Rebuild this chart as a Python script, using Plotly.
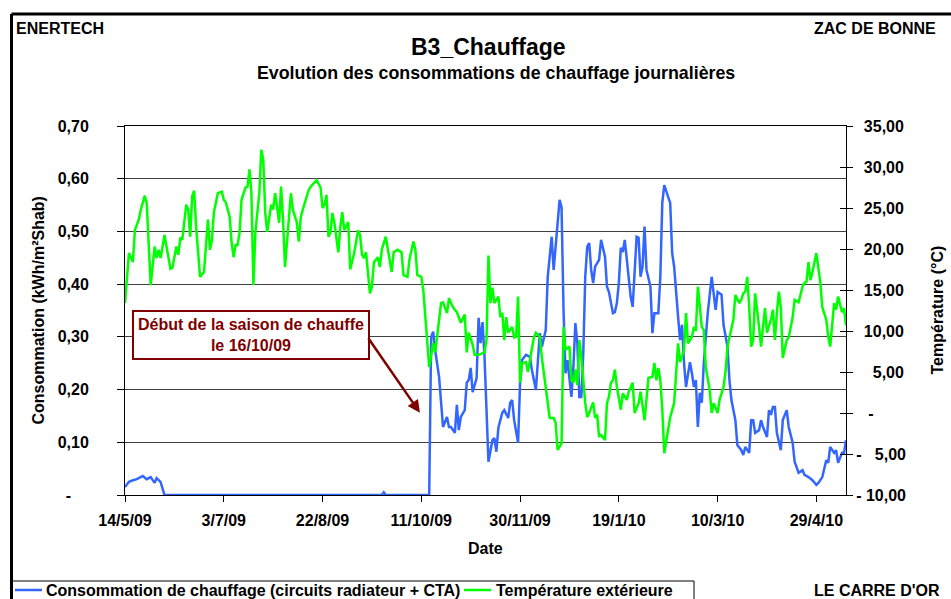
import pandas as pd
import plotly.graph_objects as go

# ---------------- data ----------------
start_date = "2009-05-14"

# outside temperature (°C), day offsets from start_date
temp_day = [0, 2, 4, 5, 7, 8, 10, 11, 13, 15, 16, 17, 18, 20, 21, 23, 24, 26, 27, 28, 29,
            31, 32, 33, 34, 35, 36, 38, 40, 41, 42, 43, 44, 45, 47, 49, 50, 51, 53, 54, 55,
            56, 57, 58, 59, 61, 62, 63, 64, 65, 66, 68, 69, 70, 71, 72, 73, 74, 75, 76, 77,
            78, 79, 80, 81, 82, 84, 85, 87, 88, 89, 90, 91, 93, 94, 96, 97, 99, 100, 101,
            102, 103, 104, 105, 106, 108, 109, 110, 111, 113, 114, 116, 118, 119, 120, 121,
            122, 124, 125, 126, 128, 129, 130, 132, 133, 135, 136, 138, 140, 141, 143, 144,
            146, 147, 148, 150, 151, 152, 154, 156, 157, 158, 160, 161, 163, 164, 166, 168,
            170, 172, 173, 174, 176, 177, 179, 182, 183, 184, 185, 186, 187, 189, 190, 191,
            192, 193, 194, 196, 197, 198, 199, 200, 201, 203, 204, 205, 207, 208, 210, 211,
            213, 215, 217, 218, 219, 221, 222, 223, 225, 226, 227, 228, 229, 230, 231, 233,
            234, 235, 237, 238, 239, 240, 241, 243, 244, 245, 246, 247, 248, 249, 251, 252,
            254, 255, 257, 258, 260, 261, 263, 264, 265, 267, 268, 269, 270, 271, 272, 273,
            275, 276, 278, 279, 280, 281, 283, 284, 285, 287, 288, 289, 290, 292, 293, 294,
            296, 297, 298, 300, 301, 303, 304, 305, 307, 308, 309, 311, 312, 313, 314, 315,
            316, 317, 318, 319, 321, 322, 323, 324, 325, 327, 328, 329, 330, 331, 332, 333,
            335, 336, 338, 339, 341, 343, 344, 345, 346, 347, 348, 350, 352, 353, 355, 356,
            357, 358, 359, 360, 361, 363, 364, 365]
temp_val = [13.4, 19.5, 18.4, 22.3, 23.6, 24.8, 26.5, 25.6, 15.6, 20.3, 18.9, 19.9, 18.9, 21.7,
            20.3, 17.6, 17.7, 20.3, 19.3, 21.4, 21.1, 25.4, 24.8, 21.5, 26.4, 27.1, 22.7, 16.6,
            17.2, 19.9, 23.6, 19.9, 21.1, 24.5, 26.8, 27.0, 26.0, 25.7, 23.9, 20.7, 19.0, 20.5,
            20.5, 22.0, 26.0, 27.5, 27.6, 29.7, 26.8, 15.6, 22.0, 26.8, 32.1, 30.9, 24.4, 22.1,
            23.9, 25.4, 24.8, 26.8, 25.1, 23.2, 27.6, 23.6, 17.8, 21.1, 26.8, 24.8, 23.2, 20.9,
            23.9, 24.8, 25.7, 27.2, 27.6, 28.2, 28.4, 27.5, 25.0, 25.4, 26.6, 21.5, 22.0, 24.4,
            23.2, 19.6, 22.7, 24.5, 22.3, 23.3, 17.5, 19.5, 22.3, 21.7, 19.3, 18.9, 19.6, 14.6,
            15.4, 18.4, 19.0, 17.8, 19.9, 21.5, 19.9, 17.2, 19.6, 19.9, 19.6, 16.8, 16.6, 18.7,
            20.9, 19.9, 16.8, 16.6, 15.0, 12.0, 5.6, 8.5, 7.4, 9.3, 13.4, 13.5, 12.2, 14.0,
            12.9, 12.3, 11.0, 12.0, 7.4, 9.8, 8.3, 7.1, 7.1, 7.4, 8.9, 19.2, 13.4, 15.3, 13.4,
            14.2, 11.7, 12.2, 8.9, 11.7, 9.8, 10.5, 9.2, 9.3, 14.2, 3.7, 6.1, 6.2, 5.0, 6.5,
            9.2, 9.8, 9.3, 6.8, 3.1, -0.6, -0.6, -1.2, -4.5, -3.7, 10.5, 7.7, 8.1, 4.0, 3.7,
            5.3, 3.4, 8.9, 6.8, 1.2, -0.5, 0.0, 1.3, -0.6, -0.2, -2.9, -2.7, -3.3, 1.2, 2.0,
            3.7, 4.0, 5.3, 3.2, 0.4, 2.4, 1.6, 2.6, 3.7, 0.0, 1.2, 2.6, -0.9, 1.6, 4.3, 4.4,
            6.1, 4.0, 5.5, 4.0, 0.4, -4.9, -1.7, -0.5, 1.2, 5.3, 8.5, 6.2, 7.7, 12.2, 8.5, 9.3,
            10.5, 10.0, 15.4, 10.5, 10.1, 5.6, 2.8, 0.0, 1.2, 0.0, 1.6, 3.2, 5.0, 8.1, 10.5,
            11.4, 14.4, 13.4, 13.8, 14.6, 14.8, 16.6, 12.9, 8.1, 8.9, 14.6, 10.5, 8.1, 10.5,
            12.8, 9.8, 11.4, 12.6, 8.9, 12.2, 14.8, 12.9, 6.7, 8.9, 9.2, 11.7, 13.8, 13.5, 15.4,
            15.9, 16.0, 18.4, 16.2, 17.2, 19.5, 15.9, 12.9, 11.4, 9.3, 8.1, 11.0, 13.4, 12.6,
            14.2, 12.3, 12.8, 10.7]

# heating consumption (kWh/m²Shab), day offsets from start_date
conso_day = [0, 2, 4, 6, 9, 10, 11, 13, 15, 16, 18, 20, 130, 131, 132, 154, 155, 156, 157, 159,
             160, 161, 163, 164, 165, 167, 168, 169, 170, 172, 173, 174, 175, 176, 178, 179, 180,
             181, 182, 183, 184, 186, 187, 188, 189, 191, 192, 194, 195, 196, 197, 199, 200, 201,
             203, 205, 206, 208, 209, 210, 211, 213, 214, 216, 217, 218, 220, 221, 222, 223, 224,
             226, 227, 228, 229, 230, 231, 232, 233, 234, 235, 236, 237, 238, 240, 241, 243, 244,
             245, 247, 248, 249, 250, 251, 252, 253, 254, 256, 257, 258, 259, 260, 261, 262, 263,
             264, 266, 267, 268, 270, 271, 272, 273, 275, 276, 277, 278, 280, 281, 282, 283, 284,
             286, 287, 288, 289, 290, 291, 292, 293, 295, 297, 298, 299, 300, 302, 303, 305, 306,
             307, 309, 310, 312, 313, 314, 316, 317, 318, 319, 321, 322, 323, 325, 326, 327, 328,
             329, 330, 332, 333, 335, 336, 338, 339, 341, 343, 344, 346, 348, 350, 351, 353, 355,
             356, 357, 359, 360, 361, 363, 364, 365]
conso_val = [0.015, 0.025, 0.028, 0.030, 0.036, 0.032, 0.030, 0.034, 0.023, 0.032, 0.025, 0.0,
             0.0, 0.005, 0.0, 0.0, 0.300, 0.310, 0.275, 0.224, 0.175, 0.129, 0.148, 0.129, 0.129,
             0.118, 0.171, 0.123, 0.148, 0.161, 0.213, 0.218, 0.241, 0.195, 0.222, 0.336, 0.288,
             0.328, 0.262, 0.148, 0.063, 0.104, 0.108, 0.082, 0.127, 0.156, 0.161, 0.146, 0.175,
             0.180, 0.142, 0.099, 0.213, 0.256, 0.266, 0.262, 0.237, 0.199, 0.262, 0.307, 0.281,
             0.313, 0.414, 0.490, 0.427, 0.471, 0.560, 0.546, 0.351, 0.231, 0.256, 0.186, 0.243,
             0.326, 0.288, 0.186, 0.186, 0.269, 0.414, 0.471, 0.478, 0.427, 0.402, 0.433, 0.446,
             0.484, 0.452, 0.395, 0.385, 0.345, 0.347, 0.364, 0.402, 0.469, 0.461, 0.484, 0.452,
             0.376, 0.357, 0.427, 0.490, 0.488, 0.414, 0.433, 0.509, 0.427, 0.395, 0.307, 0.345,
             0.345, 0.414, 0.554, 0.588, 0.565, 0.554, 0.459, 0.433, 0.338, 0.294, 0.323, 0.250,
             0.205, 0.252, 0.231, 0.205, 0.218, 0.129, 0.194, 0.175, 0.250, 0.345, 0.414, 0.383,
             0.351, 0.385, 0.380, 0.323, 0.281, 0.218, 0.180, 0.142, 0.095, 0.085, 0.076, 0.091,
             0.080, 0.142, 0.142, 0.118, 0.123, 0.142, 0.129, 0.110, 0.161, 0.152, 0.167, 0.167,
             0.118, 0.085, 0.142, 0.161, 0.129, 0.099, 0.063, 0.042, 0.047, 0.038, 0.034, 0.028,
             0.019, 0.023, 0.034, 0.066, 0.061, 0.091, 0.080, 0.085, 0.061, 0.080, 0.080, 0.104]

# axis ticks
left_tickvals = [0, 0.1, 0.2, 0.3, 0.4, 0.5, 0.6, 0.7]
left_ticktext = ["-\u2007\u2007", "0,10", "0,20", "0,30", "0,40", "0,50", "0,60", "0,70"]
NB = "\u00a0"
P = NB + "\u2009"          # leading pad (accounting-style alignment)
right_tickvals = [-10, -5, 0, 5, 10, 15, 20, 25, 30, 35]
right_ticktext = ["-" + NB + "10,00", "-" + NB + "\u20075,00", P + NB + "-",
                  P + "\u20075,00", P + "10,00", P + "15,00",
                  P + "20,00", P + "25,00", P + "30,00", P + "35,00"]
x_tick_step_days = 50

series_names = ["Consommation de chauffage (circuits radiateur + CTA)", "Température extérieure"]
series_colors = ["#3366FF", "#00FF00"]

# ---------------- figure ----------------
start = pd.Timestamp(start_date)
conso_dates = [start + pd.Timedelta(days=d) for d in conso_day]
temp_dates = [start + pd.Timedelta(days=d) for d in temp_day]

FONT = "Liberation Sans, Arial, sans-serif"
W, H = 951, 599
L, R, T, B = 125, 105, 126, 104
PW, PH = W - L - R, H - T - B


def px(xp):
    return (xp - L) / PW


def py(yp):
    return (H - B - yp) / PH


fig = go.Figure()
fig.add_trace(go.Scatter(x=conso_dates, y=conso_val, mode="lines", name=series_names[0],
                         line=dict(color=series_colors[0], width=2.5), yaxis="y"))
fig.add_trace(go.Scatter(x=temp_dates, y=temp_val, mode="lines", name=series_names[1],
                         line=dict(color=series_colors[1], width=2.5), yaxis="y2"))

tickfont = dict(family=FONT, size=16, color="black", weight="bold")

fig.update_layout(
    width=W, height=H, autosize=False,
    margin=dict(l=L, r=R, t=T, b=B, pad=0),
    paper_bgcolor="white", plot_bgcolor="white",
    font=dict(family=FONT, size=16, color="black"),
    showlegend=False,
    xaxis=dict(type="date", range=[start, start + pd.Timedelta(days=365)],
               tick0=start, dtick=x_tick_step_days * 86400000, tickformat="%-d/%-m/%y",
               ticks="outside", ticklen=6, tickcolor="black", tickwidth=1,
               showline=True, linecolor="black", linewidth=1, mirror=True,
               showgrid=False, zeroline=False, tickfont=tickfont,
               ticklabelstandoff=5, automargin=False),
    yaxis=dict(range=[0, 0.7], tickmode="array", tickvals=left_tickvals, ticktext=left_ticktext,
               ticks="outside", ticklen=7, tickcolor="black", tickwidth=1,
               showline=True, linecolor="black", linewidth=1,
               showgrid=True, gridcolor="#404040", gridwidth=1, zeroline=False,
               tickfont=tickfont, ticklabelstandoff=25, automargin=False),
    yaxis2=dict(range=[-10, 35], overlaying="y", side="right", anchor="x",
                tickmode="array", tickvals=right_tickvals, ticktext=right_ticktext,
                ticks="outside", ticklen=6, tickcolor="black", tickwidth=1,
                showline=True, linecolor="black", linewidth=1,
                showgrid=False, zeroline=False, tickfont=tickfont,
                ticklabelstandoff=0, automargin=False),
    yaxis3=dict(range=[-10, 35], overlaying="y", side="right", anchor="x",
                tickmode="array", tickvals=right_tickvals, ticks="inside", ticklen=6,
                tickcolor="black", tickwidth=1, showticklabels=False, showline=False,
                showgrid=False, zeroline=False, automargin=False),
)

# empty trace so the inner-tick axis is drawn
fig.add_trace(go.Scatter(x=[], y=[], yaxis="y3", showlegend=False, hoverinfo="skip"))

ann = []
def text(t, x, y, size=16, xanchor="center", angle=0, color="black"):
    ann.append(dict(text="<b>" + t + "</b>", x=x, y=y, xref="paper", yref="paper",
                    xanchor=xanchor, yanchor="middle", showarrow=False, textangle=angle,
                    font=dict(family=FONT, size=size, color=color)))

text("ENERTECH", px(14), py(28), 16, "left")
text("ZAC DE BONNE", px(812), py(28), 16, "left")
text("B3_Chauffage", px(488), py(47), 23)
text("Evolution des consommations de chauffage journalières", px(496), py(73), 17.8)
text("Consommation (kWh/m²Shab)", px(38), 0.5, 16, angle=-90)
text("Température (°C)", px(937), 0.5, 16, angle=-90)
text("Date", px(485), py(548), 16)
text("LE CARRE D'OR", px(812), py(590), 16, "left")

DARKRED = "#800000"
ann.append(dict(text="<b>Début de la saison de chauffe<br>le 16/10/09</b>",
                x=px(251), y=py(335), xref="paper", yref="paper", showarrow=False,
                xanchor="center", yanchor="middle",
                font=dict(family=FONT, size=16, color=DARKRED),
                bordercolor=DARKRED, borderwidth=2, borderpad=2, bgcolor="white",
                width=230, height=42))
# arrow pointing to the start of the heating season
ann.append(dict(text="", x=start + pd.Timedelta(hours=149.3 * 24), y=0.156,
                xref="x", yref="y", showarrow=True, ax=-52.6, ay=-76,
                arrowhead=2, arrowsize=1, arrowwidth=2.5, arrowcolor=DARKRED))

# ---- legend (drawn by hand so it does not push the plot margins) ----
LEG_Y = 590
fig.add_shape(type="rect", xref="paper", yref="paper", x0=px(12), x1=px(694),
              y0=py(640), y1=py(581), line=dict(color="black", width=1), fillcolor="white")
legend_layout = [(15, 42, 44), (464, 491, 494)]   # sample start, sample end, text start (px)
for name, color, (s0, s1, tx) in zip(series_names, series_colors, legend_layout):
    fig.add_shape(type="line", xref="paper", yref="paper", x0=px(s0), x1=px(s1),
                  y0=py(LEG_Y), y1=py(LEG_Y), line=dict(color=color, width=2.5))
    text(name, px(tx), py(LEG_Y), 16, "left")

fig.update_layout(annotations=ann)

# outer frame (top and left edges visible in the reference)
fig.add_shape(type="line", xref="paper", yref="paper", x0=px(11.5), x1=px(960),
              y0=py(14), y1=py(14), line=dict(color="black", width=3))
fig.add_shape(type="line", xref="paper", yref="paper", x0=px(11.5), x1=px(11.5),
              y0=py(14), y1=py(640), line=dict(color="black", width=3))

fig.write_html(
    "out.html",
    config={"responsive": False, "displayModeBar": False},
    post_script="document.body.style.margin='0px';"
                "document.documentElement.style.overflow='hidden';"
                "document.body.style.overflow='hidden';",
)
